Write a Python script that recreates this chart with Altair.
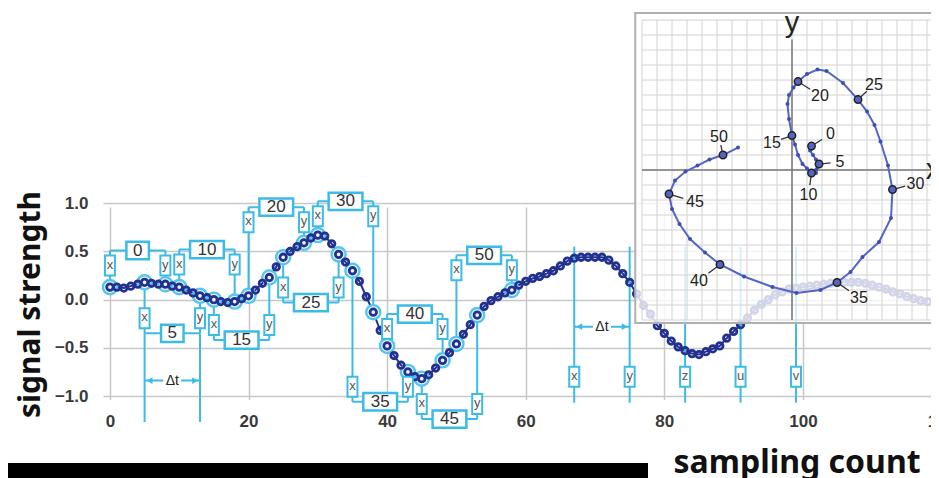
import altair as alt
import pandas as pd

# ---------------- data ----------------
signal = [0.13, 0.13, 0.12, 0.14, 0.16, 0.18, 0.17, 0.16, 0.16, 0.14,
          0.13, 0.10, 0.07, 0.04, 0.02, 0.00, -0.02, -0.03, -0.02, 0.01,
          0.04, 0.10, 0.17, 0.23, 0.34, 0.44, 0.50, 0.55, 0.59, 0.64,
          0.67, 0.66, 0.58, 0.47, 0.39, 0.30, 0.19, 0.03, -0.13, -0.32,
          -0.48, -0.58, -0.68, -0.75, -0.80, -0.82, -0.78, -0.71, -0.63, -0.55,
          -0.46, -0.36, -0.26, -0.16, -0.07, -0.01, 0.03, 0.07, 0.10, 0.15,
          0.19, 0.22, 0.24, 0.27, 0.30, 0.35, 0.40, 0.43, 0.44, 0.44,
          0.44, 0.44, 0.41, 0.35, 0.27, 0.18, 0.06, -0.06, -0.15, -0.27,
          -0.35, -0.43, -0.49, -0.53, -0.56, -0.57, -0.54, -0.51, -0.48, -0.40,
          -0.33, -0.26, -0.19, -0.11, -0.05, 0.00, 0.05, 0.08, 0.11, 0.12,
          0.13, 0.14, 0.15, 0.16, 0.17, 0.18, 0.18, 0.18, 0.18, 0.17,
          0.15, 0.13, 0.11, 0.08, 0.06, 0.03, 0.01, -0.01, -0.02]
lag = 8
label_ts = [0, 5, 10, 15, 20, 25, 30, 35, 40, 45, 50]
label_levels = [0.51, -0.35, 0.52, -0.42, 0.96, -0.03, 1.02, -1.06, -0.15, -1.24, 0.46]
marker_names = ["x", "y", "z", "u", "v"]
marker_ts = [67, 75, 83, 91, 99]
marker_top = 0.55
marker_bottom = -1.07
marker_box_level = -0.80
dt_starts = [5, 67]
dt_levels = [-0.84, -0.28]
guide_ts = [5, 13]
guide_top = -0.35
guide_bottom = -1.27
inset_last = 51
grid_steps = [round(i / 10, 1) for i in range(-10, 11)]
x_ticks = [0, 20, 40, 60, 80, 100, 120]
y_ticks = [-1.0, -0.5, 0.0, 0.5, 1.0]

# ---------------- styles / layout ----------------
CYAN = "#3bbbe6"
NAVY = "#22318f"
INSET_BLUE = "#5566c2"
BOX_XY = "M-0.5,-1H0.5V1H-0.5Z"
BOX_1 = "M-1.3,-1H1.3V1H-1.3Z"
BOX_2 = "M-1.95,-1H1.95V1H-1.95Z"
inset_offsets = {0: (19, -12), 5: (21, -2), 10: (-3, 22), 15: (-20, 7), 20: (22, 14),
                 25: (16, -15), 30: (23, -6), 35: (22, 15), 40: (-21, 16), 45: (26, 8),
                 50: (-4, -18)}

# ---------------- tables ----------------
n = len(signal)
main = pd.DataFrame({"t": list(range(n)), "s": signal})
halo_ts = sorted(set(label_ts + [k + lag for k in label_ts]))
halos = main[main.t.isin(halo_ts)]

legs = []
for k, lev in zip(label_ts, label_levels):
    for role, t in (("x", k), ("y", k + lag)):
        v = signal[t]
        legs.append({"t": t, "v": v, "lev": lev, "role": role,
                     "side": "above" if lev > v else "below"})
legs = pd.DataFrame(legs)
bars = pd.DataFrame({"t0": label_ts, "t1": [k + lag for k in label_ts],
                     "mid": [k + lag / 2 for k in label_ts], "lev": label_levels,
                     "label": [str(k) for k in label_ts]})
bars["wide"] = bars["label"].str.len() > 1

guides = pd.DataFrame({"t": marker_ts + guide_ts,
                       "top": [marker_top] * len(marker_ts) + [guide_top] * len(guide_ts),
                       "bottom": [marker_bottom] * len(marker_ts) + [guide_bottom] * len(guide_ts)})
markers = pd.DataFrame({"t": marker_ts, "name": marker_names, "lev": [marker_box_level] * len(marker_ts)})
dts = pd.DataFrame({"t0": dt_starts, "t1": [t + lag for t in dt_starts],
                    "mid": [t + lag / 2 for t in dt_starts], "lev": dt_levels, "txt": ["Δt"] * len(dt_starts)})

XS = alt.Scale(domain=[-1, 120], range=[0, 838.5], nice=False, zero=False)
YS = alt.Scale(domain=[-1, 1], range=[196, 3.3], nice=False, zero=False)


def X(f):
    return alt.X(f, type="quantitative", scale=XS, axis=None)


def Y(f):
    return alt.Y(f, type="quantitative", scale=YS, axis=None)


x_axis = alt.Axis(values=x_ticks, grid=True, gridColor="#c8c8c8", gridWidth=1.5, domain=False,
                  ticks=False, labelFlush=False, labelOverlap=False, labelFontSize=17,
                  labelFontWeight="bold", labelColor="#3a3a3a", labelFont="Liberation Sans",
                  labelPadding=10,
                  title="sampling count", titleFont="Noto Sans", titleFontSize=32,
                  titleFontWeight="bold", titleColor="#111", titleX=570, titleY=69,
                  titleAlign="left", titleBaseline="alphabetic")
y_axis = alt.Axis(values=y_ticks, format=".1f", grid=True, gridColor="#c8c8c8", gridWidth=1.5,
                  domain=False, ticks=False, labelFontSize=17, labelFontWeight="bold",
                  labelColor="#3a3a3a", labelFont="Liberation Sans", labelPadding=15,
                  title="signal strength", titleFont="Noto Sans", titleFontSize=30,
                  titleFontWeight="bold", titleColor="#111", titleX=-73, titleY=104,
                  titleAngle=270, titleAlign="center", titleBaseline="middle")

base = alt.Chart(main)
axes_layer = base.mark_line(color=NAVY, strokeWidth=2).encode(
    x=alt.X("t:Q", scale=XS, axis=x_axis), y=alt.Y("s:Q", scale=YS, axis=y_axis))

leg_rules = alt.Chart(legs).mark_rule(color=CYAN, strokeWidth=2).encode(x=X("t"), y=Y("v"), y2="lev")
bar_rules = alt.Chart(bars).mark_rule(color=CYAN, strokeWidth=2).encode(x=X("t0"), x2="t1", y=Y("lev"))
guide_rules = alt.Chart(guides).mark_rule(color=CYAN, strokeWidth=2).encode(x=X("t"), y=Y("top"), y2="bottom")
dt_rule = alt.Chart(dts).mark_rule(color=CYAN, strokeWidth=2).encode(x=X("t0"), x2="t1", y=Y("lev"))
dt_left = alt.Chart(dts).mark_point(shape="triangle-left", filled=True, color=CYAN, size=45,
                                    opacity=1, xOffset=5).encode(x=X("t0"), y=Y("lev"))
dt_right = alt.Chart(dts).mark_point(shape="triangle-right", filled=True, color=CYAN, size=45,
                                     opacity=1, xOffset=-5).encode(x=X("t1"), y=Y("lev"))
dt_bg = alt.Chart(dts).mark_point(shape="M-1.5,-1H1.5V1H-1.5Z", filled=True, color="white", size=144,
                                  opacity=1).encode(x=X("mid"), y=Y("lev"))
dt_txt = alt.Chart(dts).mark_text(fontSize=14, color="#222", font="Liberation Sans").encode(
    x=X("mid"), y=Y("lev"), text="txt:N")

halo_layer = alt.Chart(halos).mark_point(shape="circle", filled=True, fill="#eaf7fd", stroke="#55c5ea",
                                         strokeWidth=2.4, size=200, opacity=1).encode(x=X("t"), y=Y("s"))
point_layer = base.mark_point(shape="circle", filled=False, color=NAVY, strokeWidth=2.8, size=42,
                              opacity=1).encode(x=X("t"), y=Y("s"))

box_layers = []
for side, off in (("above", 15), ("below", -15)):
    sub = alt.Chart(legs).transform_filter(alt.datum.side == side)
    box_layers.append(sub.mark_point(shape=BOX_XY, size=400, filled=True, fill="white", stroke=CYAN,
                                     strokeWidth=2, opacity=1, yOffset=off).encode(x=X("t"), y=Y("lev")))
    box_layers.append(sub.mark_text(fontSize=13, color="#555", font="Liberation Sans", yOffset=off - 1).encode(
        x=X("t"), y=Y("lev"), text="role:N"))
mk = alt.Chart(markers)
box_layers.append(mk.mark_point(shape=BOX_XY, size=400, filled=True, fill="white", stroke=CYAN,
                                strokeWidth=2, opacity=1).encode(x=X("t"), y=Y("lev")))
box_layers.append(mk.mark_text(fontSize=13, color="#555", font="Liberation Sans", yOffset=-1).encode(
    x=X("t"), y=Y("lev"), text="name:N"))
for wide, shp in ((False, BOX_1), (True, BOX_2)):
    sub = alt.Chart(bars).transform_filter(alt.datum.wide == wide)
    box_layers.append(sub.mark_point(shape=shp, size=300, filled=True, fill="white", stroke=CYAN,
                                     strokeWidth=2.5, opacity=1).encode(x=X("mid"), y=Y("lev")))
box_layers.append(alt.Chart(bars).mark_text(fontSize=17, color="#333", font="Liberation Sans").encode(
    x=X("mid"), y=Y("lev"), text="label:N"))

main_chart = alt.layer(axes_layer, leg_rules, bar_rules, guide_rules, dt_rule, dt_left, dt_right,
                       dt_bg, dt_txt, halo_layer, point_layer, *box_layers).resolve_scale(
    x="independent", y="independent")

# ---------------- inset ----------------
XI = alt.Scale(domain=[-1.045, 1.045], range=[532.25, 845.75], nice=False, zero=False)
YI = alt.Scale(domain=[-1.02, 1.047], range=[123, -187], nice=False, zero=False)


def XN(f):
    return alt.X(f, type="quantitative", scale=XI, axis=None)


def YN(f):
    return alt.Y(f, type="quantitative", scale=YI, axis=None)


inset = pd.DataFrame({"t": list(range(inset_last + 1)),
                      "x": [signal[t] for t in range(inset_last + 1)],
                      "y": [signal[t + lag] for t in range(inset_last + 1)]})
inset_lab = inset[inset.t.isin(label_ts)].copy()
inset_lab["label"] = inset_lab["t"].astype(str)
frame = pd.DataFrame({"a": [-1.045], "b": [1.045], "c": [-1.02], "d": [1.047]})
grid = pd.DataFrame({"g": grid_steps, "lo": [-1.0] * len(grid_steps), "hi": [1.0] * len(grid_steps)})

ins_layers = [
    alt.Chart(frame).mark_rect(fill="white", fillOpacity=0.8, stroke="#b0b0b0", strokeWidth=2).encode(
        x=XN("a"), x2="b", y=YN("c"), y2="d"),
    alt.Chart(grid).mark_rule(color="#d2d2d2", strokeWidth=1).encode(x=XN("g"), y=YN("lo"), y2="hi"),
    alt.Chart(grid).mark_rule(color="#d2d2d2", strokeWidth=1).encode(y=YN("g"), x=XN("lo"), x2="hi"),
    alt.Chart(frame).mark_rule(color="#777", strokeWidth=1.5).encode(
        x=alt.X(datum=0, type="quantitative", scale=XI, axis=None),
        y=alt.Y(datum=-1.0, type="quantitative", scale=YI, axis=None), y2=alt.datum(0.87)),
    alt.Chart(frame).mark_rule(color="#777", strokeWidth=1.5).encode(
        y=alt.Y(datum=0, type="quantitative", scale=YI, axis=None),
        x=alt.X(datum=-1.0, type="quantitative", scale=XI, axis=None), x2=alt.datum(0.93)),
    alt.Chart(frame).mark_text(text="y", fontSize=29, color="#222", font="Liberation Sans",
                               baseline="alphabetic").encode(
        x=alt.X(datum=0, type="quantitative", scale=XI, axis=None),
        y=alt.Y(datum=0.92, type="quantitative", scale=YI, axis=None)),
    alt.Chart(frame).mark_text(text="x", fontSize=29, color="#222", font="Liberation Sans",
                               baseline="middle").encode(
        x=alt.X(datum=0.94, type="quantitative", scale=XI, axis=None),
        y=alt.Y(datum=0.0, type="quantitative", scale=YI, axis=None)),
    alt.Chart(inset).mark_line(color=INSET_BLUE, strokeWidth=2).encode(x=XN("x"), y=YN("y"), order="t:Q"),
    alt.Chart(inset).mark_circle(color="#3d4fb0", size=16, opacity=1).encode(x=XN("x"), y=YN("y")),
]
for k, (dx, dy) in inset_offsets.items():
    sub = alt.Chart(inset_lab).transform_filter(alt.datum.t == k)
    ins_layers.append(sub.mark_rule(color="#333", strokeWidth=1.3, x2Offset=dx * 0.55, y2Offset=dy * 0.55).encode(
        x=XN("x"), x2="x", y=YN("y"), y2="y"))
    ins_layers.append(sub.mark_text(dx=dx, dy=dy, fontSize=16, color="#222", font="Liberation Sans").encode(
        x=XN("x"), y=YN("y"), text="label:N"))
ins_layers.append(alt.Chart(inset_lab).mark_point(shape="circle", filled=True, fill=INSET_BLUE, stroke="#222",
                                                  strokeWidth=1.5, size=55, opacity=1).encode(x=XN("x"), y=YN("y")))
inset_chart = alt.layer(*ins_layers)

bar = alt.Chart(frame).mark_rect(color="black").encode(
    x=alt.value(-95), x2=alt.value(545), y=alt.value(263), y2=alt.value(280))

chart = alt.layer(main_chart, inset_chart, bar).resolve_scale(
    x="independent", y="independent"
).properties(
    width=828, height=203,
    padding={"left": 95, "top": 192, "right": 0, "bottom": 75},
    autosize=alt.AutoSizeParams(type="none"),
    background="white",
).configure_view(stroke=None)

chart.save("out.html", embed_options={"renderer": "svg", "actions": False})
